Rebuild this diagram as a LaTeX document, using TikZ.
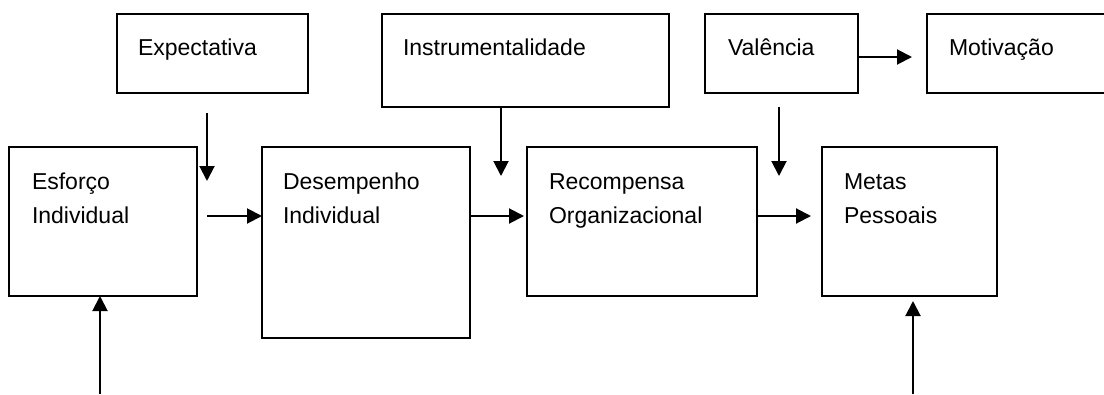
\documentclass[tikz,border=0pt]{standalone}
\usepackage{fontspec}
\setmainfont{Liberation Sans}
\usetikzlibrary{arrows.meta}
\begin{document}
\begin{tikzpicture}[x=1pt,y=-1pt,
  box/.style={draw=black,line width=1.6pt,inner sep=0pt,outer sep=0pt,anchor=north west,fill=white},
  lbl/.style={anchor=base west,inner sep=0pt,outer sep=0pt,font=\fontsize{23}{34}\selectfont},
  arr/.style={line width=2pt,-{Triangle[length=15pt,width=15pt]}}]
\useasboundingbox (0,0) rectangle (1104,394);
\clip (0,0) rectangle (1104,394);
\fill[white] (0,0) rectangle (1104,394);
% top row
\node[box,minimum width=191pt,minimum height=79pt] (exp) at (117,14) {};
\node[box,minimum width=287pt,minimum height=93pt] (ins) at (382,14) {};
\node[box,minimum width=153pt,minimum height=79pt] (val) at (705,14) {};
\node[box,minimum width=200pt,minimum height=79pt] (mot) at (927,14) {};
% bottom row
\node[box,minimum width=188pt,minimum height=149pt] (esf) at (9,147) {};
\node[box,minimum width=208pt,minimum height=191pt] (des) at (262,147) {};
\node[box,minimum width=230pt,minimum height=149pt] (rec) at (527,147) {};
\node[box,minimum width=175pt,minimum height=149pt] (met) at (822,147) {};
% labels
\node[lbl] (expt) at ([xshift=21pt,yshift=-41pt]exp.north west) {Expectativa};
\node[lbl] (inst) at ([xshift=21pt,yshift=-41pt]ins.north west) {Instrumentalidade};
\node[lbl] (valt) at ([xshift=23pt,yshift=-41pt]val.north west) {Valência};
\node[lbl] (mott) at ([xshift=22pt,yshift=-41pt]mot.north west) {Motivação};
\node[lbl] (esf1) at ([xshift=23pt,yshift=-42pt]esf.north west) {Esforço};
\node[lbl] (esf2) at ([yshift=-34pt]esf1.base west) {Individual};
\node[lbl] (des1) at ([xshift=21pt,yshift=-42pt]des.north west) {Desempenho};
\node[lbl] (des2) at ([yshift=-34pt]des1.base west) {Individual};
\node[lbl] (rec1) at ([xshift=22pt,yshift=-42pt]rec.north west) {Recompensa};
\node[lbl] (rec2) at ([yshift=-34pt]rec1.base west) {Organizacional};
\node[lbl] (met1) at ([xshift=22pt,yshift=-42pt]met.north west) {Metas};
\node[lbl] (met2) at ([yshift=-34pt]met1.base west) {Pessoais};
% free ends
\coordinate (e1) at (207,113);
\coordinate (e2) at (207,181);
\coordinate (i2) at (501,176);
\coordinate (v1) at (779,107);
\coordinate (v2) at (779,176);
\coordinate (b1) at (100,394);
\coordinate (b2) at (913,394);
% connectors
\draw[arr] (e1) -- (e2);
\draw[arr] (ins.south -| i2) -- (i2);
\draw[arr] (v1) -- (v2);
\draw[arr] (val.east |- 0,57) -- (912,57) coordinate (m1);
\draw[arr] (207,216) coordinate (s1) -- (des.west |- s1);
\draw[arr] (des.east |- 0,216) -- (524,216) coordinate (r1);
\draw[arr] (rec.east |- 0,216) -- (811,216) coordinate (t1);
\draw[arr] (b1) -- (esf.south -| b1);
\draw[arr] (b2) -- (913,301) coordinate (b3);
\end{tikzpicture}
\end{document}
